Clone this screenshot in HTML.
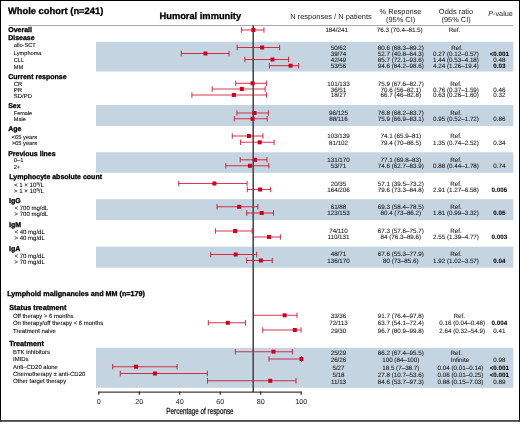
<!DOCTYPE html>
<html><head><meta charset="utf-8"><style>
html,body{margin:0;padding:0;background:#fff;}
body{width:520px;height:428px;overflow:hidden;font-family:"Liberation Sans",sans-serif;}
svg{display:block;will-change:transform;}
.r{stroke:#1a1a1a;stroke-width:0.08px;}
.hb{stroke:#000;stroke-width:0.3px;}
</style></head><body>
<svg width="520" height="428" viewBox="0 0 520 428" font-family="Liberation Sans, sans-serif" text-rendering="geometricPrecision">
<rect x="0" y="0" width="520" height="428" fill="#fff"/>
<rect x="96" y="41.8" width="417.3" height="29.70" fill="#c4d4e0"/>
<rect x="96" y="105" width="417.3" height="21.00" fill="#c4d4e0"/>
<rect x="96" y="152.3" width="417.3" height="20.50" fill="#c4d4e0"/>
<rect x="96" y="199.2" width="417.3" height="20.90" fill="#c4d4e0"/>
<rect x="96" y="246.7" width="417.3" height="21.00" fill="#c4d4e0"/>
<rect x="96" y="347.8" width="417.3" height="40.00" fill="#c4d4e0"/>
<rect x="8.5" y="25" width="504.5" height="1" fill="#aaa"/>
<rect x="0" y="0" width="520" height="1" fill="#000"/>
<rect x="0" y="0" width="1" height="421.5" fill="#000"/>
<rect x="519" y="0" width="1" height="421.5" fill="#000"/>
<rect x="0" y="420.2" width="520" height="1.5" fill="#222"/>
<text x="8" y="14.2" font-size="9.35" font-weight="bold" class="hb" fill="#000">Whole cohort (n=241)</text>
<text x="200.3" y="18.9" font-size="9.3" font-weight="bold" class="hb" fill="#000" text-anchor="middle">Humoral immunity</text>
<text x="331" y="18.6" font-size="7.45" fill="#222" text-anchor="middle">N responses / N patients</text>
<text x="400.5" y="13.9" font-size="7.4" fill="#222" text-anchor="middle">% Response</text>
<text x="400.6" y="22.2" font-size="7.4" fill="#222" text-anchor="middle">(95% CI)</text>
<text x="456" y="13.6" font-size="7.45" fill="#222" text-anchor="middle">Odds ratio</text>
<text x="456.1" y="22.1" font-size="7.4" fill="#222" text-anchor="middle">(95% CI)</text>
<text x="500.5" y="16.3" font-size="7.3" fill="#222" text-anchor="middle"><tspan font-style="italic">P</tspan>-value</text>
<text x="8.2" y="32.2" font-size="7.0" font-weight="bold" class="hb" fill="#000">Overall</text>
<text x="8.2" y="40.3" font-size="7.0" font-weight="bold" class="hb" fill="#000">Disease</text>
<text x="13.8" y="47.3" font-size="5.65" class="r" fill="#000">allo-SCT</text>
<text x="13.8" y="54.6" font-size="5.65" class="r" fill="#000">Lymphoma</text>
<text x="13.8" y="61.9" font-size="5.65" class="r" fill="#000">CLL</text>
<text x="13.8" y="69.0" font-size="5.65" class="r" fill="#000">MM</text>
<text x="8.2" y="78.75" font-size="7.0" font-weight="bold" class="hb" fill="#000">Current response</text>
<text x="13.8" y="86.0" font-size="5.95" class="r" fill="#000">CR</text>
<text x="13.8" y="91.9" font-size="5.95" class="r" fill="#000">PR</text>
<text x="13.8" y="98.2" font-size="5.95" class="r" fill="#000">SD/PD</text>
<text x="8.2" y="107.6" font-size="7.0" font-weight="bold" class="hb" fill="#000">Sex</text>
<text x="13.8" y="115.25" font-size="5.5" class="r" fill="#000">Female</text>
<text x="13.8" y="121.1" font-size="5.5" class="r" fill="#000">Male</text>
<text x="8.2" y="130.8" font-size="7.0" font-weight="bold" class="hb" fill="#000">Age</text>
<text x="11.7" y="138.6" font-size="5.75" class="r" fill="#000">&lt;65 years</text>
<text x="11.7" y="144.7" font-size="5.75" class="r" fill="#000">&gt;65 years</text>
<text x="8.2" y="155.5" font-size="7.0" font-weight="bold" class="hb" fill="#000">Previous lines</text>
<text x="13.8" y="162.3" font-size="5.75" class="r" fill="#000">0–1</text>
<text x="13.8" y="168.7" font-size="5.75" class="r" fill="#000">2+</text>
<text x="9.3" y="179.2" font-size="7.0" font-weight="bold" class="hb" fill="#000">Lymphocyte absolute count</text>
<text x="14.0" y="186.8" font-size="6.1" class="r" fill="#000">< 1 × 10<tspan dy="-2" font-size="4.2">9</tspan><tspan dy="2">/L</tspan></text>
<text x="14.0" y="193.0" font-size="6.1" class="r" fill="#000">> 1 × 10<tspan dy="-2" font-size="4.2">9</tspan><tspan dy="2">/L</tspan></text>
<text x="9.1" y="203.0" font-size="7.0" font-weight="bold" class="hb" fill="#000">IgG</text>
<text x="14.6" y="210.2" font-size="6.0" class="r" fill="#000">&lt; 700 mg/dL</text>
<text x="14.6" y="216.3" font-size="6.0" class="r" fill="#000">&gt; 700 mg/dL</text>
<text x="9.1" y="226.6" font-size="7.0" font-weight="bold" class="hb" fill="#000">IgM</text>
<text x="14.6" y="233.8" font-size="6.0" class="r" fill="#000">&lt; 40 mg/dL</text>
<text x="14.6" y="240.0" font-size="6.0" class="r" fill="#000">&gt; 40 mg/dL</text>
<text x="9.1" y="250.5" font-size="7.0" font-weight="bold" class="hb" fill="#000">IgA</text>
<text x="14.6" y="257.8" font-size="6.0" class="r" fill="#000">&lt; 70 mg/dL</text>
<text x="14.6" y="263.7" font-size="6.0" class="r" fill="#000">&gt; 70 mg/dL</text>
<text x="7.2" y="296.2" font-size="7.2" font-weight="bold" class="hb" fill="#000">Lymphoid malignancies and MM (n=179)</text>
<text x="9.2" y="310.0" font-size="7.25" font-weight="bold" class="hb" fill="#000">Status treatment</text>
<text x="13.0" y="317.7" font-size="5.95" class="r" fill="#000">Off therapy &gt; 6 months</text>
<text x="13.0" y="325.1" font-size="5.95" class="r" fill="#000">On therapy/off therapy &lt; 6 months</text>
<text x="13.0" y="332.6" font-size="5.95" class="r" fill="#000">Treatment naive</text>
<text x="9.2" y="345.8" font-size="7.25" font-weight="bold" class="hb" fill="#000">Treatment</text>
<text x="13.0" y="353.5" font-size="5.95" class="r" fill="#000">BTK inhibitors</text>
<text x="13.0" y="361.0" font-size="5.95" class="r" fill="#000">IMIDs</text>
<text x="13.0" y="368.5" font-size="5.95" class="r" fill="#000">Anti–CD20 alone</text>
<text x="13.0" y="375.9" font-size="5.95" class="r" fill="#000">Chemotherapy ± anti-CD20</text>
<text x="13.0" y="383.0" font-size="5.95" class="r" fill="#000">Other target therapy</text>
<rect x="252.45" y="25.3" width="1.5" height="366.80" fill="#444"/>
<rect x="98.35" y="391.6" width="203.30" height="1" fill="#111"/>
<rect x="98.35" y="391.6" width="1" height="3.2" fill="#111"/>
<text x="98.85" y="403.9" font-size="7.2" fill="#222" text-anchor="middle">0</text>
<rect x="138.81" y="391.6" width="1" height="3.2" fill="#111"/>
<text x="139.31" y="403.9" font-size="7.2" fill="#222" text-anchor="middle">20</text>
<rect x="179.27" y="391.6" width="1" height="3.2" fill="#111"/>
<text x="179.77" y="403.9" font-size="7.2" fill="#222" text-anchor="middle">40</text>
<rect x="219.73" y="391.6" width="1" height="3.2" fill="#111"/>
<text x="220.23" y="403.9" font-size="7.2" fill="#222" text-anchor="middle">60</text>
<rect x="260.19" y="391.6" width="1" height="3.2" fill="#111"/>
<text x="260.69" y="403.9" font-size="7.2" fill="#222" text-anchor="middle">80</text>
<rect x="300.65" y="391.6" width="1" height="3.2" fill="#111"/>
<text x="301.15" y="403.9" font-size="7.2" fill="#222" text-anchor="middle">100</text>
<text x="200" y="414.4" font-size="8.8" fill="#111" stroke="#111" stroke-width="0.25" text-anchor="middle" transform="translate(200 0) scale(0.72 1) translate(-200 0)">Percentage of response</text>
<line x1="241.41" y1="30.0" x2="263.94" y2="30.0" stroke="#d0021f" stroke-width="1.05" opacity="0.78"/>
<line x1="241.41" y1="27.2" x2="241.41" y2="32.8" stroke="#d0021f" stroke-width="1.05" opacity="0.78"/>
<line x1="263.94" y1="27.2" x2="263.94" y2="32.8" stroke="#d0021f" stroke-width="1.05" opacity="0.78"/>
<rect x="251.39" y="28.0" width="4" height="4" fill="#d0021f"/>
<line x1="237.15" y1="47.5" x2="279.58" y2="47.5" stroke="#d0021f" stroke-width="1.05" opacity="0.78"/>
<line x1="237.15" y1="44.7" x2="237.15" y2="50.3" stroke="#d0021f" stroke-width="1.05" opacity="0.78"/>
<line x1="279.58" y1="44.7" x2="279.58" y2="50.3" stroke="#d0021f" stroke-width="1.05" opacity="0.78"/>
<rect x="260.12" y="45.5" width="4" height="4" fill="#d0021f"/>
<line x1="181.32" y1="53.5" x2="229.03" y2="53.5" stroke="#d0021f" stroke-width="1.05" opacity="0.78"/>
<line x1="181.32" y1="50.7" x2="181.32" y2="56.3" stroke="#d0021f" stroke-width="1.05" opacity="0.78"/>
<line x1="229.03" y1="50.7" x2="229.03" y2="56.3" stroke="#d0021f" stroke-width="1.05" opacity="0.78"/>
<rect x="203.48" y="51.5" width="4" height="4" fill="#d0021f"/>
<line x1="244.86" y1="59.5" x2="288.51" y2="59.5" stroke="#d0021f" stroke-width="1.05" opacity="0.78"/>
<line x1="244.86" y1="56.7" x2="244.86" y2="62.3" stroke="#d0021f" stroke-width="1.05" opacity="0.78"/>
<line x1="288.51" y1="56.7" x2="288.51" y2="62.3" stroke="#d0021f" stroke-width="1.05" opacity="0.78"/>
<rect x="270.47" y="57.5" width="4" height="4" fill="#d0021f"/>
<line x1="269.43" y1="65.7" x2="298.66" y2="65.7" stroke="#d0021f" stroke-width="1.05" opacity="0.78"/>
<line x1="269.43" y1="62.900000000000006" x2="269.43" y2="68.5" stroke="#d0021f" stroke-width="1.05" opacity="0.78"/>
<line x1="298.66" y1="62.900000000000006" x2="298.66" y2="68.5" stroke="#d0021f" stroke-width="1.05" opacity="0.78"/>
<rect x="288.54" y="63.7" width="4" height="4" fill="#d0021f"/>
<line x1="235.73" y1="83.3" x2="266.38" y2="83.3" stroke="#d0021f" stroke-width="1.05" opacity="0.78"/>
<line x1="235.73" y1="80.5" x2="235.73" y2="86.1" stroke="#d0021f" stroke-width="1.05" opacity="0.78"/>
<line x1="266.38" y1="80.5" x2="266.38" y2="86.1" stroke="#d0021f" stroke-width="1.05" opacity="0.78"/>
<rect x="250.58" y="81.3" width="4" height="4" fill="#d0021f"/>
<line x1="212.18" y1="89.0" x2="265.16" y2="89.0" stroke="#d0021f" stroke-width="1.05" opacity="0.78"/>
<line x1="212.18" y1="86.2" x2="212.18" y2="91.8" stroke="#d0021f" stroke-width="1.05" opacity="0.78"/>
<line x1="265.16" y1="86.2" x2="265.16" y2="91.8" stroke="#d0021f" stroke-width="1.05" opacity="0.78"/>
<rect x="239.82" y="87.0" width="4" height="4" fill="#d0021f"/>
<line x1="191.88" y1="95.0" x2="266.58" y2="95.0" stroke="#d0021f" stroke-width="1.05" opacity="0.78"/>
<line x1="191.88" y1="92.2" x2="191.88" y2="97.8" stroke="#d0021f" stroke-width="1.05" opacity="0.78"/>
<line x1="266.58" y1="92.2" x2="266.58" y2="97.8" stroke="#d0021f" stroke-width="1.05" opacity="0.78"/>
<rect x="231.90" y="93.0" width="4" height="4" fill="#d0021f"/>
<line x1="236.95" y1="113.0" x2="268.41" y2="113.0" stroke="#d0021f" stroke-width="1.05" opacity="0.78"/>
<line x1="236.95" y1="110.2" x2="236.95" y2="115.8" stroke="#d0021f" stroke-width="1.05" opacity="0.78"/>
<line x1="268.41" y1="110.2" x2="268.41" y2="115.8" stroke="#d0021f" stroke-width="1.05" opacity="0.78"/>
<rect x="252.40" y="111.0" width="4" height="4" fill="#d0021f"/>
<line x1="234.31" y1="118.8" x2="267.19" y2="118.8" stroke="#d0021f" stroke-width="1.05" opacity="0.78"/>
<line x1="234.31" y1="116.0" x2="234.31" y2="121.6" stroke="#d0021f" stroke-width="1.05" opacity="0.78"/>
<line x1="267.19" y1="116.0" x2="267.19" y2="121.6" stroke="#d0021f" stroke-width="1.05" opacity="0.78"/>
<rect x="250.58" y="116.8" width="4" height="4" fill="#d0021f"/>
<line x1="232.28" y1="136.0" x2="262.93" y2="136.0" stroke="#d0021f" stroke-width="1.05" opacity="0.78"/>
<line x1="232.28" y1="133.2" x2="232.28" y2="138.8" stroke="#d0021f" stroke-width="1.05" opacity="0.78"/>
<line x1="262.93" y1="133.2" x2="262.93" y2="138.8" stroke="#d0021f" stroke-width="1.05" opacity="0.78"/>
<rect x="246.92" y="134.0" width="4" height="4" fill="#d0021f"/>
<line x1="240.60" y1="142.3" x2="274.09" y2="142.3" stroke="#d0021f" stroke-width="1.05" opacity="0.78"/>
<line x1="240.60" y1="139.5" x2="240.60" y2="145.10000000000002" stroke="#d0021f" stroke-width="1.05" opacity="0.78"/>
<line x1="274.09" y1="139.5" x2="274.09" y2="145.10000000000002" stroke="#d0021f" stroke-width="1.05" opacity="0.78"/>
<rect x="257.68" y="140.3" width="4" height="4" fill="#d0021f"/>
<line x1="240.19" y1="159.8" x2="266.99" y2="159.8" stroke="#d0021f" stroke-width="1.05" opacity="0.78"/>
<line x1="240.19" y1="157.0" x2="240.19" y2="162.60000000000002" stroke="#d0021f" stroke-width="1.05" opacity="0.78"/>
<line x1="266.99" y1="157.0" x2="266.99" y2="162.60000000000002" stroke="#d0021f" stroke-width="1.05" opacity="0.78"/>
<rect x="253.01" y="157.8" width="4" height="4" fill="#d0021f"/>
<line x1="225.78" y1="165.8" x2="268.82" y2="165.8" stroke="#d0021f" stroke-width="1.05" opacity="0.78"/>
<line x1="225.78" y1="163.0" x2="225.78" y2="168.60000000000002" stroke="#d0021f" stroke-width="1.05" opacity="0.78"/>
<line x1="268.82" y1="163.0" x2="268.82" y2="168.60000000000002" stroke="#d0021f" stroke-width="1.05" opacity="0.78"/>
<rect x="247.94" y="163.8" width="4" height="4" fill="#d0021f"/>
<line x1="178.69" y1="183.5" x2="247.10" y2="183.5" stroke="#d0021f" stroke-width="1.05" opacity="0.78"/>
<line x1="178.69" y1="180.7" x2="178.69" y2="186.3" stroke="#d0021f" stroke-width="1.05" opacity="0.78"/>
<line x1="247.10" y1="180.7" x2="247.10" y2="186.3" stroke="#d0021f" stroke-width="1.05" opacity="0.78"/>
<rect x="212.41" y="181.5" width="4" height="4" fill="#d0021f"/>
<line x1="247.30" y1="189.5" x2="270.64" y2="189.5" stroke="#d0021f" stroke-width="1.05" opacity="0.78"/>
<line x1="247.30" y1="186.7" x2="247.30" y2="192.3" stroke="#d0021f" stroke-width="1.05" opacity="0.78"/>
<line x1="270.64" y1="186.7" x2="270.64" y2="192.3" stroke="#d0021f" stroke-width="1.05" opacity="0.78"/>
<rect x="258.09" y="187.5" width="4" height="4" fill="#d0021f"/>
<line x1="217.05" y1="206.8" x2="257.86" y2="206.8" stroke="#d0021f" stroke-width="1.05" opacity="0.78"/>
<line x1="217.05" y1="204.0" x2="217.05" y2="209.60000000000002" stroke="#d0021f" stroke-width="1.05" opacity="0.78"/>
<line x1="257.86" y1="204.0" x2="257.86" y2="209.60000000000002" stroke="#d0021f" stroke-width="1.05" opacity="0.78"/>
<rect x="237.18" y="204.8" width="4" height="4" fill="#d0021f"/>
<line x1="246.69" y1="213.0" x2="273.49" y2="213.0" stroke="#d0021f" stroke-width="1.05" opacity="0.78"/>
<line x1="246.69" y1="210.2" x2="246.69" y2="215.8" stroke="#d0021f" stroke-width="1.05" opacity="0.78"/>
<line x1="273.49" y1="210.2" x2="273.49" y2="215.8" stroke="#d0021f" stroke-width="1.05" opacity="0.78"/>
<rect x="259.71" y="211.0" width="4" height="4" fill="#d0021f"/>
<line x1="215.43" y1="231.0" x2="252.17" y2="231.0" stroke="#d0021f" stroke-width="1.05" opacity="0.78"/>
<line x1="215.43" y1="228.2" x2="215.43" y2="233.8" stroke="#d0021f" stroke-width="1.05" opacity="0.78"/>
<line x1="252.17" y1="228.2" x2="252.17" y2="233.8" stroke="#d0021f" stroke-width="1.05" opacity="0.78"/>
<rect x="233.12" y="229.0" width="4" height="4" fill="#d0021f"/>
<line x1="253.39" y1="237.0" x2="280.39" y2="237.0" stroke="#d0021f" stroke-width="1.05" opacity="0.78"/>
<line x1="253.39" y1="234.2" x2="253.39" y2="239.8" stroke="#d0021f" stroke-width="1.05" opacity="0.78"/>
<line x1="280.39" y1="234.2" x2="280.39" y2="239.8" stroke="#d0021f" stroke-width="1.05" opacity="0.78"/>
<rect x="267.02" y="235.0" width="4" height="4" fill="#d0021f"/>
<line x1="210.76" y1="254.5" x2="256.64" y2="254.5" stroke="#d0021f" stroke-width="1.05" opacity="0.78"/>
<line x1="210.76" y1="251.7" x2="210.76" y2="257.3" stroke="#d0021f" stroke-width="1.05" opacity="0.78"/>
<line x1="256.64" y1="251.7" x2="256.64" y2="257.3" stroke="#d0021f" stroke-width="1.05" opacity="0.78"/>
<rect x="233.73" y="252.5" width="4" height="4" fill="#d0021f"/>
<line x1="246.69" y1="260.5" x2="272.27" y2="260.5" stroke="#d0021f" stroke-width="1.05" opacity="0.78"/>
<line x1="246.69" y1="257.7" x2="246.69" y2="263.3" stroke="#d0021f" stroke-width="1.05" opacity="0.78"/>
<line x1="272.27" y1="257.7" x2="272.27" y2="263.3" stroke="#d0021f" stroke-width="1.05" opacity="0.78"/>
<rect x="258.90" y="258.5" width="4" height="4" fill="#d0021f"/>
<line x1="253.59" y1="315.3" x2="297.03" y2="315.3" stroke="#d0021f" stroke-width="1.05" opacity="0.78"/>
<line x1="253.59" y1="312.5" x2="253.59" y2="318.1" stroke="#d0021f" stroke-width="1.05" opacity="0.78"/>
<line x1="297.03" y1="312.5" x2="297.03" y2="318.1" stroke="#d0021f" stroke-width="1.05" opacity="0.78"/>
<rect x="282.65" y="313.3" width="4" height="4" fill="#d0021f"/>
<line x1="208.32" y1="322.8" x2="245.47" y2="322.8" stroke="#d0021f" stroke-width="1.05" opacity="0.78"/>
<line x1="208.32" y1="320.0" x2="208.32" y2="325.6" stroke="#d0021f" stroke-width="1.05" opacity="0.78"/>
<line x1="245.47" y1="320.0" x2="245.47" y2="325.6" stroke="#d0021f" stroke-width="1.05" opacity="0.78"/>
<rect x="225.81" y="320.8" width="4" height="4" fill="#d0021f"/>
<line x1="262.73" y1="330.0" x2="301.09" y2="330.0" stroke="#d0021f" stroke-width="1.05" opacity="0.78"/>
<line x1="262.73" y1="327.2" x2="262.73" y2="332.8" stroke="#d0021f" stroke-width="1.05" opacity="0.78"/>
<line x1="301.09" y1="327.2" x2="301.09" y2="332.8" stroke="#d0021f" stroke-width="1.05" opacity="0.78"/>
<rect x="292.80" y="328.0" width="4" height="4" fill="#d0021f"/>
<line x1="235.32" y1="351.7" x2="292.37" y2="351.7" stroke="#d0021f" stroke-width="1.05" opacity="0.78"/>
<line x1="235.32" y1="348.9" x2="235.32" y2="354.5" stroke="#d0021f" stroke-width="1.05" opacity="0.78"/>
<line x1="292.37" y1="348.9" x2="292.37" y2="354.5" stroke="#d0021f" stroke-width="1.05" opacity="0.78"/>
<rect x="271.49" y="349.7" width="4" height="4" fill="#d0021f"/>
<line x1="269.02" y1="359.0" x2="301.50" y2="359.0" stroke="#d0021f" stroke-width="1.05" opacity="0.78"/>
<line x1="269.02" y1="356.2" x2="269.02" y2="361.8" stroke="#d0021f" stroke-width="1.05" opacity="0.78"/>
<line x1="301.50" y1="356.2" x2="301.50" y2="361.8" stroke="#d0021f" stroke-width="1.05" opacity="0.78"/>
<rect x="299.50" y="357.0" width="4" height="4" fill="#d0021f"/>
<line x1="112.71" y1="366.7" x2="177.06" y2="366.7" stroke="#d0021f" stroke-width="1.05" opacity="0.78"/>
<line x1="112.71" y1="363.9" x2="112.71" y2="369.5" stroke="#d0021f" stroke-width="1.05" opacity="0.78"/>
<line x1="177.06" y1="363.9" x2="177.06" y2="369.5" stroke="#d0021f" stroke-width="1.05" opacity="0.78"/>
<rect x="134.06" y="364.7" width="4" height="4" fill="#d0021f"/>
<line x1="120.22" y1="373.5" x2="207.31" y2="373.5" stroke="#d0021f" stroke-width="1.05" opacity="0.78"/>
<line x1="120.22" y1="370.7" x2="120.22" y2="376.3" stroke="#d0021f" stroke-width="1.05" opacity="0.78"/>
<line x1="207.31" y1="370.7" x2="207.31" y2="376.3" stroke="#d0021f" stroke-width="1.05" opacity="0.78"/>
<rect x="152.93" y="371.5" width="4" height="4" fill="#d0021f"/>
<line x1="207.51" y1="380.8" x2="296.02" y2="380.8" stroke="#d0021f" stroke-width="1.05" opacity="0.78"/>
<line x1="207.51" y1="378.0" x2="207.51" y2="383.6" stroke="#d0021f" stroke-width="1.05" opacity="0.78"/>
<line x1="296.02" y1="378.0" x2="296.02" y2="383.6" stroke="#d0021f" stroke-width="1.05" opacity="0.78"/>
<rect x="268.24" y="378.8" width="4" height="4" fill="#d0021f"/>
<text x="336.7" y="32.30" font-size="6.25" class="r" fill="#1a1a1a" text-anchor="middle">184/241</text>
<text x="399.72" y="32.30" font-size="6.25" class="r" fill="#1a1a1a" text-anchor="middle">76.3 (70.4–81.5)</text>
<text x="454.5" y="32.30" font-size="6.25" class="r" fill="#1a1a1a" text-anchor="middle">Ref.</text>
<text x="338.5" y="49.60" font-size="6.25" class="r" fill="#1a1a1a" text-anchor="middle">50/62</text>
<text x="400.8" y="49.60" font-size="6.25" class="r" fill="#1a1a1a" text-anchor="middle">80.6 (68.3–89.2)</text>
<text x="457.0" y="49.60" font-size="6.25" class="r" fill="#1a1a1a" text-anchor="middle">Ref.</text>
<text x="338.5" y="56.00" font-size="6.25" class="r" fill="#1a1a1a" text-anchor="middle">39/74</text>
<text x="400.8" y="56.00" font-size="6.25" class="r" fill="#1a1a1a" text-anchor="middle">52.7 (40.8–64.3)</text>
<text x="456" y="56.00" font-size="6.25" class="r" fill="#1a1a1a" text-anchor="middle">0.27 (0.12–0.57)</text>
<text x="499.3" y="56.00" font-size="6.25" font-weight="bold" class="r" fill="#000" text-anchor="middle">&lt;0.001</text>
<text x="338.5" y="62.00" font-size="6.25" class="r" fill="#1a1a1a" text-anchor="middle">42/49</text>
<text x="400.8" y="62.00" font-size="6.25" class="r" fill="#1a1a1a" text-anchor="middle">85.7 (72.1–93.6)</text>
<text x="456" y="62.00" font-size="6.25" class="r" fill="#1a1a1a" text-anchor="middle">1.44 (0.53–4.18)</text>
<text x="499.3" y="62.00" font-size="6.25" class="r" fill="#1a1a1a" text-anchor="middle">0.48</text>
<text x="338.5" y="67.70" font-size="6.25" class="r" fill="#1a1a1a" text-anchor="middle">53/56</text>
<text x="400.8" y="67.70" font-size="6.25" class="r" fill="#1a1a1a" text-anchor="middle">94.6 (84.2–98.6)</text>
<text x="456" y="67.70" font-size="6.25" class="r" fill="#1a1a1a" text-anchor="middle">4.24 (1.26–19.4)</text>
<text x="499.3" y="67.70" font-size="6.25" font-weight="bold" class="r" fill="#000" text-anchor="middle">0.03</text>
<text x="338.5" y="85.50" font-size="6.25" class="r" fill="#1a1a1a" text-anchor="middle">101/133</text>
<text x="400.8" y="85.50" font-size="6.25" class="r" fill="#1a1a1a" text-anchor="middle">75.9 (67.6–82.7)</text>
<text x="456" y="85.50" font-size="6.25" class="r" fill="#1a1a1a" text-anchor="middle">Ref.</text>
<text x="338.5" y="91.50" font-size="6.25" class="r" fill="#1a1a1a" text-anchor="middle">36/51</text>
<text x="400.8" y="91.50" font-size="6.25" class="r" fill="#1a1a1a" text-anchor="middle">70.6 (56–82.1)</text>
<text x="456" y="91.50" font-size="6.25" class="r" fill="#1a1a1a" text-anchor="middle">0.76 (0.37–1.59)</text>
<text x="499.3" y="91.50" font-size="6.25" class="r" fill="#1a1a1a" text-anchor="middle">0.46</text>
<text x="338.5" y="97.30" font-size="6.25" class="r" fill="#1a1a1a" text-anchor="middle">18/27</text>
<text x="400.8" y="97.30" font-size="6.25" class="r" fill="#1a1a1a" text-anchor="middle">66.7 (46–82.8)</text>
<text x="456" y="97.30" font-size="6.25" class="r" fill="#1a1a1a" text-anchor="middle">0.63 (0.26–1.60)</text>
<text x="499.3" y="97.30" font-size="6.25" class="r" fill="#1a1a1a" text-anchor="middle">0.32</text>
<text x="338.5" y="114.70" font-size="6.25" class="r" fill="#1a1a1a" text-anchor="middle">96/125</text>
<text x="400.8" y="114.70" font-size="6.25" class="r" fill="#1a1a1a" text-anchor="middle">76.8 (68.2–83.7)</text>
<text x="456" y="114.70" font-size="6.25" class="r" fill="#1a1a1a" text-anchor="middle">Ref.</text>
<text x="338.5" y="120.80" font-size="6.25" class="r" fill="#1a1a1a" text-anchor="middle">88/116</text>
<text x="400.8" y="120.80" font-size="6.25" class="r" fill="#1a1a1a" text-anchor="middle">75.9 (66.9–83.1)</text>
<text x="456" y="120.80" font-size="6.25" class="r" fill="#1a1a1a" text-anchor="middle">0.95 (0.52–1.72)</text>
<text x="499.3" y="120.80" font-size="6.25" class="r" fill="#1a1a1a" text-anchor="middle">0.86</text>
<text x="338.5" y="138.10" font-size="6.25" class="r" fill="#1a1a1a" text-anchor="middle">103/139</text>
<text x="400.8" y="138.10" font-size="6.25" class="r" fill="#1a1a1a" text-anchor="middle">74.1 (65.9–81)</text>
<text x="456" y="138.10" font-size="6.25" class="r" fill="#1a1a1a" text-anchor="middle">Ref.</text>
<text x="338.5" y="144.70" font-size="6.25" class="r" fill="#1a1a1a" text-anchor="middle">81/102</text>
<text x="400.8" y="144.70" font-size="6.25" class="r" fill="#1a1a1a" text-anchor="middle">79.4 (70–86.5)</text>
<text x="456" y="144.70" font-size="6.25" class="r" fill="#1a1a1a" text-anchor="middle">1.35 (0.74–2.52)</text>
<text x="499.3" y="144.70" font-size="6.25" class="r" fill="#1a1a1a" text-anchor="middle">0.34</text>
<text x="338.5" y="162.40" font-size="6.25" class="r" fill="#1a1a1a" text-anchor="middle">131/170</text>
<text x="400.8" y="162.40" font-size="6.25" class="r" fill="#1a1a1a" text-anchor="middle">77.1 (69.8–83)</text>
<text x="456" y="162.40" font-size="6.25" class="r" fill="#1a1a1a" text-anchor="middle">Ref.</text>
<text x="338.5" y="168.40" font-size="6.25" class="r" fill="#1a1a1a" text-anchor="middle">53/71</text>
<text x="400.8" y="168.40" font-size="6.25" class="r" fill="#1a1a1a" text-anchor="middle">74.6 (62.7–83.9)</text>
<text x="456" y="168.40" font-size="6.25" class="r" fill="#1a1a1a" text-anchor="middle">0.88 (0.44–1.78)</text>
<text x="499.3" y="168.40" font-size="6.25" class="r" fill="#1a1a1a" text-anchor="middle">0.74</text>
<text x="338.5" y="185.50" font-size="6.25" class="r" fill="#1a1a1a" text-anchor="middle">20/35</text>
<text x="400.8" y="185.50" font-size="6.25" class="r" fill="#1a1a1a" text-anchor="middle">57.1 (39.5–73.2)</text>
<text x="456" y="185.50" font-size="6.25" class="r" fill="#1a1a1a" text-anchor="middle">Ref.</text>
<text x="338.5" y="191.70" font-size="6.25" class="r" fill="#1a1a1a" text-anchor="middle">164/206</text>
<text x="400.8" y="191.70" font-size="6.25" class="r" fill="#1a1a1a" text-anchor="middle">79.6 (73.3–84.8)</text>
<text x="456" y="191.70" font-size="6.25" class="r" fill="#1a1a1a" text-anchor="middle">2.91 (1.27–6.58)</text>
<text x="499.3" y="191.70" font-size="6.25" font-weight="bold" class="r" fill="#000" text-anchor="middle">0.005</text>
<text x="338.5" y="208.90" font-size="6.25" class="r" fill="#1a1a1a" text-anchor="middle">61/88</text>
<text x="400.8" y="208.90" font-size="6.25" class="r" fill="#1a1a1a" text-anchor="middle">69.3 (58.4–78.5)</text>
<text x="456" y="208.90" font-size="6.25" class="r" fill="#1a1a1a" text-anchor="middle">Ref.</text>
<text x="338.5" y="215.10" font-size="6.25" class="r" fill="#1a1a1a" text-anchor="middle">123/153</text>
<text x="400.8" y="215.10" font-size="6.25" class="r" fill="#1a1a1a" text-anchor="middle">80.4 (73–86.2)</text>
<text x="456" y="215.10" font-size="6.25" class="r" fill="#1a1a1a" text-anchor="middle">1.81 (0.99–3.32)</text>
<text x="499.3" y="215.10" font-size="6.25" font-weight="bold" class="r" fill="#000" text-anchor="middle">0.05</text>
<text x="338.5" y="232.60" font-size="6.25" class="r" fill="#1a1a1a" text-anchor="middle">74/110</text>
<text x="400.8" y="232.60" font-size="6.25" class="r" fill="#1a1a1a" text-anchor="middle">67.3 (57.6–75.7)</text>
<text x="456" y="232.60" font-size="6.25" class="r" fill="#1a1a1a" text-anchor="middle">Ref.</text>
<text x="338.5" y="239.40" font-size="6.25" class="r" fill="#1a1a1a" text-anchor="middle">110/131</text>
<text x="400.8" y="239.40" font-size="6.25" class="r" fill="#1a1a1a" text-anchor="middle">84 (76.3–89.6)</text>
<text x="456" y="239.40" font-size="6.25" class="r" fill="#1a1a1a" text-anchor="middle">2.55 (1.39–4.77)</text>
<text x="499.3" y="239.40" font-size="6.25" font-weight="bold" class="r" fill="#000" text-anchor="middle">0.003</text>
<text x="338.5" y="256.30" font-size="6.25" class="r" fill="#1a1a1a" text-anchor="middle">48/71</text>
<text x="400.8" y="256.30" font-size="6.25" class="r" fill="#1a1a1a" text-anchor="middle">67.6 (55.3–77.9)</text>
<text x="456" y="256.30" font-size="6.25" class="r" fill="#1a1a1a" text-anchor="middle">Ref.</text>
<text x="338.5" y="262.80" font-size="6.25" class="r" fill="#1a1a1a" text-anchor="middle">136/170</text>
<text x="400.8" y="262.80" font-size="6.25" class="r" fill="#1a1a1a" text-anchor="middle">80 (73–85.6)</text>
<text x="456" y="262.80" font-size="6.25" class="r" fill="#1a1a1a" text-anchor="middle">1.92 (1.02–3.57)</text>
<text x="499.3" y="262.80" font-size="6.25" font-weight="bold" class="r" fill="#000" text-anchor="middle">0.04</text>
<text x="338.5" y="317.60" font-size="6.25" class="r" fill="#1a1a1a" text-anchor="middle">33/36</text>
<text x="400.8" y="317.60" font-size="6.25" class="r" fill="#1a1a1a" text-anchor="middle">91.7 (76.4–97.8)</text>
<text x="459.2" y="317.60" font-size="6.25" class="r" fill="#1a1a1a" text-anchor="middle">Ref.</text>
<text x="338.5" y="325.30" font-size="6.25" class="r" fill="#1a1a1a" text-anchor="middle">72/113</text>
<text x="400.8" y="325.30" font-size="6.25" class="r" fill="#1a1a1a" text-anchor="middle">63.7 (54.1–72.4)</text>
<text x="462.2" y="325.30" font-size="6.25" class="r" fill="#1a1a1a" text-anchor="middle">0.16 (0.04–0.48)</text>
<text x="499.3" y="325.30" font-size="6.25" font-weight="bold" class="r" fill="#000" text-anchor="middle">0.004</text>
<text x="338.5" y="332.70" font-size="6.25" class="r" fill="#1a1a1a" text-anchor="middle">29/30</text>
<text x="400.8" y="332.70" font-size="6.25" class="r" fill="#1a1a1a" text-anchor="middle">96.7 (80.9–99.8)</text>
<text x="462.2" y="332.70" font-size="6.25" class="r" fill="#1a1a1a" text-anchor="middle">2.64 (0.32–54.9)</text>
<text x="499.3" y="332.70" font-size="6.25" class="r" fill="#1a1a1a" text-anchor="middle">0.41</text>
<text x="338.5" y="355.00" font-size="6.25" class="r" fill="#1a1a1a" text-anchor="middle">25/29</text>
<text x="400.8" y="355.00" font-size="6.25" class="r" fill="#1a1a1a" text-anchor="middle">86.2 (67.4–95.5)</text>
<text x="456.3" y="355.00" font-size="6.25" class="r" fill="#1a1a1a" text-anchor="middle">Ref.</text>
<text x="338.5" y="362.20" font-size="6.25" class="r" fill="#1a1a1a" text-anchor="middle">26/26</text>
<text x="400.8" y="362.20" font-size="6.25" class="r" fill="#1a1a1a" text-anchor="middle">100 (84–100)</text>
<text x="460.0" y="362.20" font-size="6.25" class="r" fill="#1a1a1a" text-anchor="middle">Infinite</text>
<text x="499.3" y="362.20" font-size="6.25" class="r" fill="#1a1a1a" text-anchor="middle">0.98</text>
<text x="338.5" y="369.60" font-size="6.25" class="r" fill="#1a1a1a" text-anchor="middle">5/27</text>
<text x="400.8" y="369.60" font-size="6.25" class="r" fill="#1a1a1a" text-anchor="middle">18.5 (7–38.7)</text>
<text x="460.5" y="369.60" font-size="6.25" class="r" fill="#1a1a1a" text-anchor="middle">0.04 (0.01–0.14)</text>
<text x="499.3" y="369.60" font-size="6.25" font-weight="bold" class="r" fill="#000" text-anchor="middle">&lt;0.001</text>
<text x="338.5" y="376.80" font-size="6.25" class="r" fill="#1a1a1a" text-anchor="middle">5/18</text>
<text x="400.8" y="376.80" font-size="6.25" class="r" fill="#1a1a1a" text-anchor="middle">27.8 (10.7–53.6)</text>
<text x="460.5" y="376.80" font-size="6.25" class="r" fill="#1a1a1a" text-anchor="middle">0.06 (0.01–0.25)</text>
<text x="499.3" y="376.80" font-size="6.25" font-weight="bold" class="r" fill="#000" text-anchor="middle">&lt;0.001</text>
<text x="338.5" y="384.20" font-size="6.25" class="r" fill="#1a1a1a" text-anchor="middle">11/13</text>
<text x="400.8" y="384.20" font-size="6.25" class="r" fill="#1a1a1a" text-anchor="middle">84.6 (53.7–97.3)</text>
<text x="460.5" y="384.20" font-size="6.25" class="r" fill="#1a1a1a" text-anchor="middle">0.88 (0.15–7.03)</text>
<text x="499.3" y="384.20" font-size="6.25" class="r" fill="#1a1a1a" text-anchor="middle">0.89</text>
</svg>
</body></html>
